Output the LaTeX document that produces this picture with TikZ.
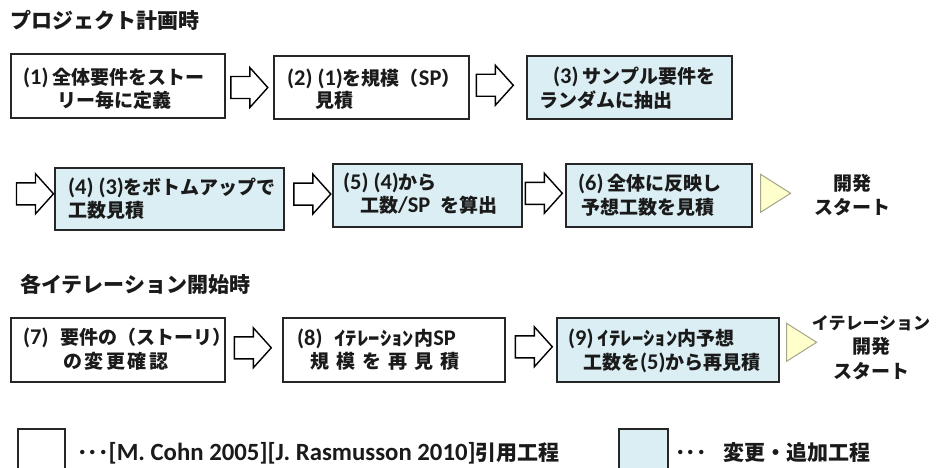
\documentclass[tikz,border=0pt]{standalone}
\usepackage{fontspec}
\setmainfont{Noto Sans CJK JP}
\newfontfamily\lat{Carlito}[Scale=1.18, BoldFont={Carlito Bold}]
\newcommand\la[1]{{\lat #1}}
\newcommand\gp[1]{\hspace{#1pt}}
\newcommand\hk[1]{\scalebox{1.2}[1]{#1}}
\usetikzlibrary{calc}
\definecolor{chgfill}{HTML}{DAEEF3}
\definecolor{boxline}{HTML}{262626}
\definecolor{trifill}{HTML}{FFFFCC}
\definecolor{triline}{HTML}{A5A58A}
\definecolor{ink}{HTML}{1A1A1A}
\begin{document}
\begin{tikzpicture}[x=1pt,y=-1pt,
  box/.style={draw=boxline, line width=1.6pt, fill=white, anchor=north west, inner sep=0pt},
  chg/.style={box, fill=chgfill},
  txt/.style={anchor=base west, inner sep=0pt, text=ink, font=\bfseries\fontsize{19}{22}\selectfont},
  ttl/.style={anchor=base west, inner sep=0pt, text=ink, font=\bfseries\fontsize{21}{24}\selectfont},
  endtxt/.style={align=center, inner sep=0pt, text=ink, font=\bfseries\fontsize{19}{24.5}\selectfont},
  leg/.style={anchor=base west, inner sep=0pt, text=ink, font=\bfseries\fontsize{21}{24}\selectfont},
  harrow/.pic={\draw[line width=1.4pt, draw=black, fill=white]
     (-18.5,-11) -- (0.5,-11) -- (0.5,-20) -- (18.5,0) -- (0.5,20) -- (0.5,11) -- (-18.5,11) -- cycle;},
  starttri/.pic={\draw[line width=1pt, draw=triline, fill=trifill]
     (-15,-19) -- (15,0) -- (-15,19) -- cycle;}
]
\useasboundingbox[fill=white] (0,0) rectangle (936,468);

% titles
\node[ttl] (title1) at (10,29) {プロジェクト計画時};
\node[ttl] (title2) at (20,292) {各イテレーション開始時};

% row 1
\node[box, minimum width=214pt, minimum height=64pt] (b1) at (10,53) {};
\node[box, minimum width=195pt, minimum height=63pt] (b2) at (273,55) {};
\node[chg, minimum width=205pt, minimum height=63pt] (b3) at (526,55) {};
% row 2
\node[chg, minimum width=229pt, minimum height=62pt] (b4) at (54,167) {};
\node[chg, minimum width=189pt, minimum height=63pt] (b5) at (332,163) {};
\node[chg, minimum width=186pt, minimum height=63pt] (b6) at (565,163) {};
% row 3
\node[box, minimum width=214pt, minimum height=64pt] (b7) at (10,317) {};
\node[box, minimum width=222pt, minimum height=64pt] (b8) at (282,317) {};
\node[chg, minimum width=222pt, minimum height=64pt] (b9) at (556,317) {};

% texts
\node[txt] (t1a) at (23,85) {\la{(1)} 全体要件をストー};
\node[txt] (t1b) at (57,107) {リー毎に定義};
\node[txt] (t2a) at (287,86) {\la{(2) (1)}を規模（\la{SP}）};
\node[txt] (t2b) at (315,108) {見積};
\node[txt] (t3a) at (553,84) {\la{(3)} サンプル要件を};
\node[txt] (t3b) at (539,107) {ランダムに抽出};
\node[txt] (t4a) at (68,194) {\la{(4) (3)}をボトムアップで};
\node[txt] (t4b) at (68,217) {工数見積};
\node[txt] (t5a) at (343,189) {\la{(5) (4)}から};
\node[txt] (t5b) at (360,212) {工数\la{/SP\ \ }を算出};
\node[txt] (t6a) at (578,190) {\la{(6)} 全体に反映し};
\node[txt] (t6b) at (581,214) {予想工数を見積};
\node[txt] (t7a) at (23,344) {\la{(7)}\gp{12}要件の（ストーリ）};
\node[txt] (t7b) at (63,368) {の\gp{2.5}変\gp{2.5}更\gp{2.5}確\gp{2.5}認};
\node[txt] (t8a) at (297,345) {\la{(8)}\gp{12}\hk{ｲﾃﾚｰｼｮﾝ}内\la{SP}};
\node[txt] (t8b) at (310,368) {規\gp{7}模\gp{7}を\gp{7}再\gp{7}見\gp{7}積};
\node[txt] (t9a) at (568,345) {\la{(9)} \hk{ｲﾃﾚｰｼｮﾝ}内予想};
\node[txt] (t9b) at (583,369) {工数を\la{(5)}から再見積};

% block arrows
\pic at ($(b1.east)!0.5!(b2.west)+(0,1)$) {harrow};
\pic at ($(b2.east)!0.5!(b3.west)+(-3,-2)$) {harrow};
\pic at ($(b4.west)+(-19,-5)$) {harrow};
\pic at ($(b4.east)!0.5!(b5.west)+(4,-3)$) {harrow};
\pic at ($(b5.east)!0.5!(b6.west)+(0,-2)$) {harrow};
\pic at ($(b7.east)!0.5!(b8.west)+(-1,-2)$) {harrow};
\pic at ($(b8.east)!0.5!(b9.west)+(3,-3)$) {harrow};

% start triangles and texts
\pic at ($(b6.east)+(23,-2)$) {starttri};
\pic at ($(b9.east)+(22,-7.5)$) {starttri};
\node[endtxt] (s1) at (852,195) {開発\\スタート};
\node[endtxt] (s2) at (871,347.5) {{\fontsize{17}{24.5}\selectfont イテレーション}\\開発\\スタート};

% legend
\node[box, minimum width=47pt, minimum height=41pt] (l1) at (17,428) {};
\node[leg] (l1t) at (77,460) {･･･\la{[M. Cohn 2005][J. Rasmusson 2010]}引用工程};
\node[chg, minimum width=49pt, minimum height=41pt] (l2) at (618,428) {};
\node[leg] (l2d) at (675,460) {･･･};
\node[leg] (l2t) at (723,460) {変更・追加工程};
\end{tikzpicture}
\end{document}
